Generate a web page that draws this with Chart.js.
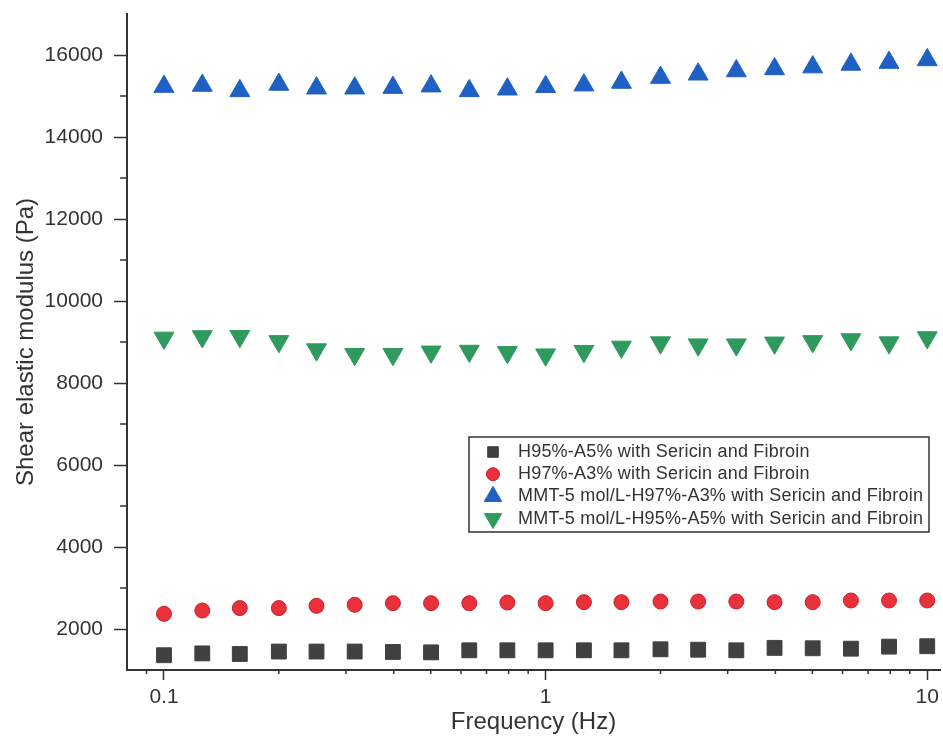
<!DOCTYPE html>
<html>
<head>
<meta charset="utf-8">
<script src="https://cdn.jsdelivr.net/npm/chart.js@4/dist/chart.umd.min.js"></script>
<style>
  html, body { margin: 0; padding: 0; background: #fff; }
  #wrap { width: 943px; height: 740px; }
</style>
</head>
<body>
<div id="wrap"><canvas id="modulusChart"></canvas></div>
<script>
// frequencies (Hz) of the sweep
const freq = [0.1, 0.126, 0.158, 0.2, 0.251, 0.316, 0.398, 0.501, 0.631, 0.794,
  1, 1.26, 1.58, 2, 2.51, 3.16, 3.98, 5.01, 6.31, 7.94, 10];

// shear elastic modulus (Pa)
const h95 = [1360, 1405, 1390, 1450, 1450, 1450, 1440, 1430, 1480, 1480,
  1480, 1480, 1480, 1505, 1495, 1480, 1540, 1530, 1520, 1570, 1580];
const h97 = [2370, 2450, 2510, 2510, 2565, 2590, 2630, 2630, 2630, 2645,
  2630, 2655, 2655, 2670, 2670, 2670, 2655, 2655, 2695, 2695, 2695];
const mmtH97 = [15230, 15255, 15125, 15280, 15190, 15190, 15205, 15240, 15125, 15165,
  15225, 15265, 15330, 15450, 15530, 15610, 15660, 15705, 15770, 15815, 15880];
const mmtH95 = [9100, 9135, 9140, 9015, 8815, 8700, 8700, 8760, 8780, 8750,
  8690, 8775, 8880, 8985, 8935, 8935, 8980, 9015, 9060, 8985, 9110];

const labels = [
  "H95%-A5% with Sericin and Fibroin",
  "H97%-A3% with Sericin and Fibroin",
  "MMT-5 mol/L-H97%-A3% with Sericin and Fibroin",
  "MMT-5 mol/L-H95%-A5% with Sericin and Fibroin"
];

// tick values
const xMajor = [0.1, 1, 10];
const xMinor = [0.09, 0.2, 0.3, 0.4, 0.5, 0.6, 0.7, 0.8, 0.9, 2, 3, 4, 5, 6, 7, 8, 9];
const yMajor = [2000, 4000, 6000, 8000, 10000, 12000, 14000, 16000];
const yMinor = [3000, 5000, 7000, 9000, 11000, 13000, 15000];

const FONT = "'Liberation Sans', Arial, sans-serif";
const AXIS = '#333';

function pts(vals) {
  return freq.map((f, i) => ({ x: f, y: vals[i] }));
}

// short ticks between the labelled ones
const minorTicks = {
  id: 'minorTicks',
  afterDraw(chart) {
    const ctx = chart.ctx;
    const xs = chart.scales.x, ys = chart.scales.y;
    ctx.save();
    ctx.strokeStyle = AXIS;
    ctx.lineWidth = 1.5;
    ctx.beginPath();
    xMinor.forEach(v => {
      const px = xs.getPixelForValue(v);
      ctx.moveTo(px, xs.top);
      ctx.lineTo(px, xs.top + 4);
    });
    yMinor.forEach(v => {
      const py = ys.getPixelForValue(v);
      ctx.moveTo(ys.right, py);
      ctx.lineTo(ys.right - 7, py);
    });
    ctx.stroke();
    ctx.restore();
  }
};

// boxed legend inside the plot, like the original
const boxLegend = {
  id: 'boxLegend',
  afterDraw(chart) {
    const ctx = chart.ctx;
    const left = 469, top = 437, w = 460, h = 95;
    ctx.save();
    ctx.strokeStyle = AXIS;
    ctx.lineWidth = 1.5;
    ctx.strokeRect(left, top, w, h);
    ctx.font = '18px ' + FONT;
    ctx.letterSpacing = '0.2px';
    ctx.textBaseline = 'middle';
    chart.data.datasets.forEach((ds, i) => {
      const y = top + 15 + i * 22.2;
      ctx.fillStyle = ds.backgroundColor;
      ctx.strokeStyle = ds.borderColor;
      ctx.lineWidth = 1;
      Chart.helpers.drawPoint(ctx, {
        pointStyle: ds.pointStyle,
        radius: ds.legendRadius,
        rotation: ds.rotation || 0,
        borderWidth: 1
      }, 493, y);
      ctx.fillStyle = '#333';
      ctx.fillText(ds.label, 518, y);
    });
    ctx.restore();
  }
};

new Chart(document.getElementById('modulusChart'), {
  type: 'scatter',
  data: {
    datasets: [
      { label: labels[0], data: pts(h95), pointStyle: 'rect', pointRadius: 10.5,
        backgroundColor: '#404040', borderColor: '#404040', borderWidth: 1, legendRadius: 7.5 },
      { label: labels[1], data: pts(h97), pointStyle: 'circle', pointRadius: 7.5,
        backgroundColor: '#e8313a', borderColor: '#c8222a', borderWidth: 1, legendRadius: 6.5 },
      { label: labels[2], data: pts(mmtH97), pointStyle: 'triangle', pointRadius: 11.5,
        backgroundColor: '#1f60c4', borderColor: '#1f60c4', borderWidth: 1, legendRadius: 10 },
      { label: labels[3], data: pts(mmtH95), pointStyle: 'triangle', rotation: 180, pointRotation: 180,
        pointRadius: 11.5, backgroundColor: '#2f9a5d', borderColor: '#2f9a5d', borderWidth: 1, legendRadius: 10 }
    ]
  },
  options: {
    responsive: true,
    maintainAspectRatio: false,
    animation: false,
    layout: { autoPadding: false, padding: { top: 14, right: 3, left: 0, bottom: 0 } },
    plugins: {
      legend: { display: false },
      tooltip: { enabled: false }
    },
    scales: {
      x: {
        type: 'logarithmic',
        min: 0.08,
        max: 10.8,
        afterBuildTicks: s => { s.ticks = xMajor.map(v => ({ value: v })); },
        afterFit: s => { s.height = 70; s.paddingLeft = 0; s.paddingRight = 0; },
        border: { color: AXIS, width: 2 },
        grid: { drawOnChartArea: false, drawTicks: true, tickLength: 10, tickColor: AXIS, tickWidth: 1.5 },
        ticks: {
          autoSkip: false,
          maxRotation: 0,
          padding: 5,
          color: '#333',
          font: { family: FONT, size: 21 },
          callback: v => String(v)
        },
        title: {
          display: true,
          text: 'Frequency (Hz)',
          color: '#333',
          font: { family: FONT, size: 24 },
          padding: { top: 0, bottom: 3 }
        }
      },
      y: {
        min: 1000,
        max: 17000,
        afterBuildTicks: s => { s.ticks = yMajor.map(v => ({ value: v })); },
        afterFit: s => { s.width = 127; s.paddingTop = 0; s.paddingBottom = 0; },
        border: { color: AXIS, width: 2 },
        grid: { drawOnChartArea: false, drawTicks: true, tickLength: 13, tickColor: AXIS, tickWidth: 1.5 },
        ticks: {
          padding: 11,
          color: '#333',
          font: { family: FONT, size: 21 },
          callback: v => String(v)
        },
        title: {
          display: true,
          text: 'Shear elastic modulus (Pa)',
          color: '#333',
          font: { family: FONT, size: 24 },
          padding: { top: 12, bottom: 0 }
        }
      }
    }
  },
  plugins: [minorTicks, boxLegend]
});
</script>
</body>
</html>
